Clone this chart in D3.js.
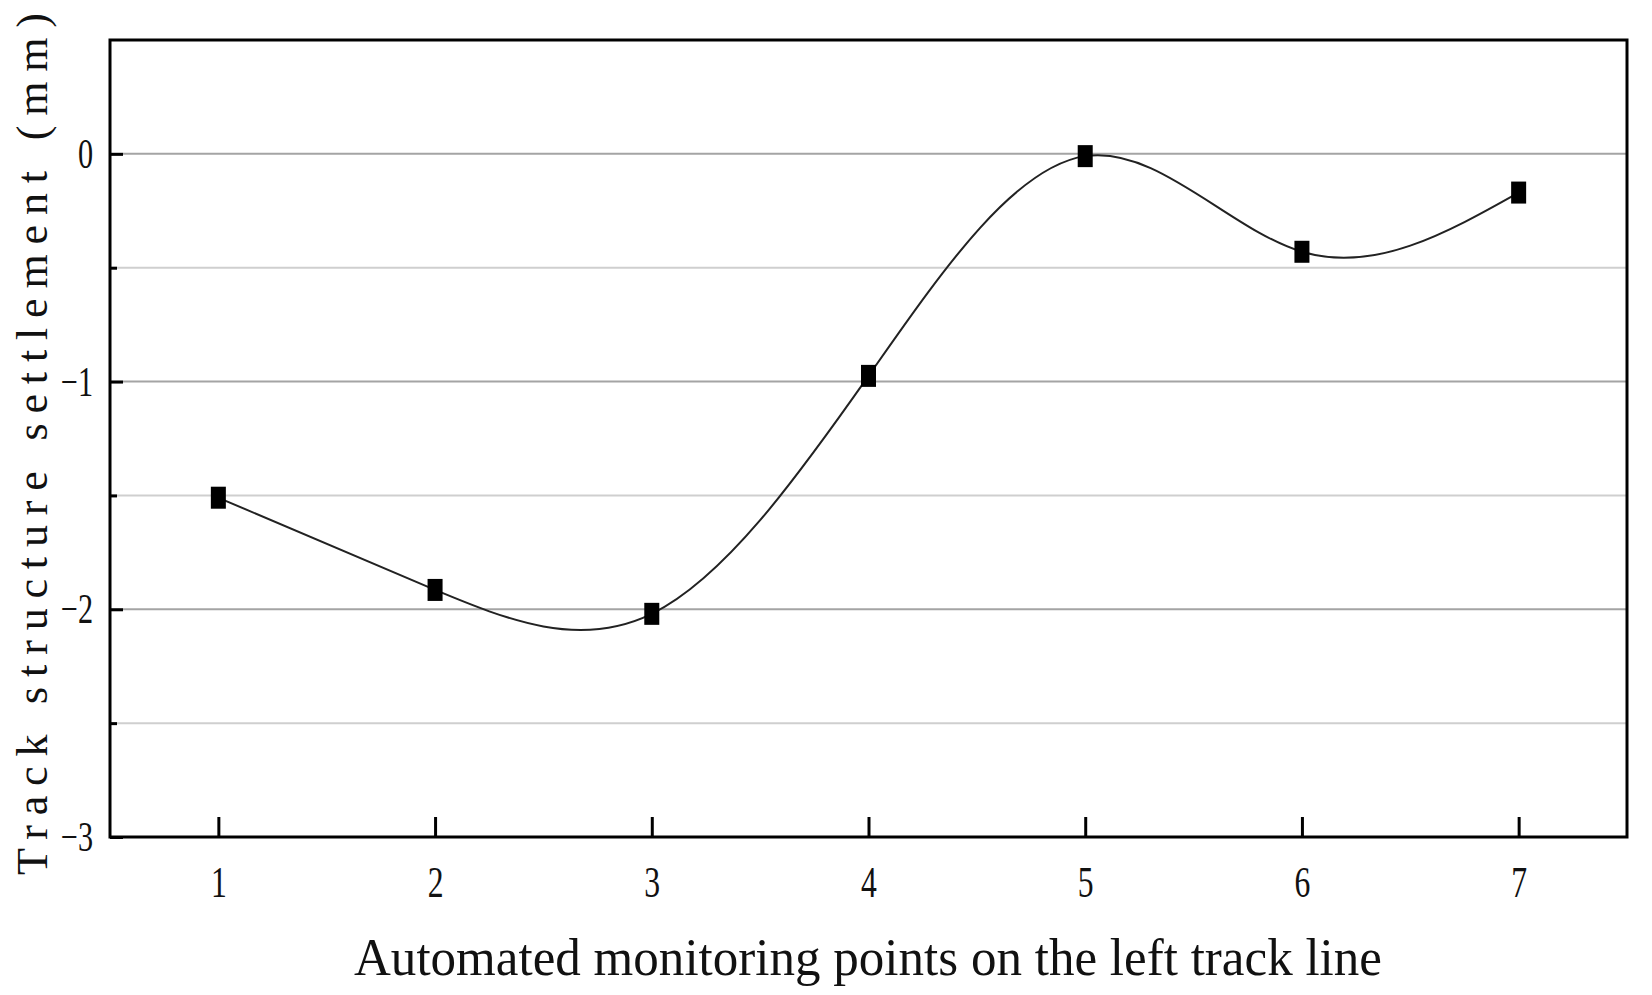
<!DOCTYPE html>
<html>
<head>
<meta charset="utf-8">
<script src="https://cdn.jsdelivr.net/npm/d3@7"></script>
<style>
  html, body { margin: 0; padding: 0; background: #fff; }
  svg { display: block; }
  text { font-family: "Liberation Serif", "DejaVu Serif", serif; fill: #111; }
</style>
</head>
<body>
<svg id="chart" width="1652" height="995"></svg>
<script>
// ---- data ----
const points = [1, 2, 3, 4, 5, 6, 7];
const settlement = [-1.51, -1.915, -2.02, -0.975, -0.01, -0.43, -0.17];
const yMajorTicks = [-3, -2, -1, 0];
const yMinorTicks = [-2.5, -1.5, -0.5];
const xTickLabels = ["1", "2", "3", "4", "5", "6", "7"];
const xTitle = "Automated monitoring points on the left track line";
const yTitle = "Track structure settlement (mm)";

// ---- layout ----
const svg = d3.select("#chart");
const L = 110, R = 1627, T = 40, B = 837;

const x = d3.scaleLinear().domain([0.5, 7.5]).range([L, R]);
const y = d3.scaleLinear().domain([-3, 0.5]).range([B, T]);

// gridlines
const grid = svg.append("g");
grid.selectAll("line.minor").data(yMinorTicks).join("line")
  .attr("x1", L).attr("x2", R)
  .attr("y1", d => y(d)).attr("y2", d => y(d))
  .attr("stroke", "#cfcfcf").attr("stroke-width", 2);
grid.selectAll("line.major").data(yMajorTicks.filter(d => d > -3)).join("line")
  .attr("x1", L).attr("x2", R)
  .attr("y1", d => y(d)).attr("y2", d => y(d))
  .attr("stroke", "#a4a4a4").attr("stroke-width", 2);

// curve
const data = points.map((p, i) => ({ x: p, y: settlement[i] }));
const line = d3.line().x(d => x(d.x)).y(d => y(d.y)).curve(d3.curveNatural);
svg.append("path").datum(data)
  .attr("d", line)
  .attr("fill", "none")
  .attr("stroke", "#222")
  .attr("stroke-width", 2);

// markers
const mw = 15, mh = 22;
svg.selectAll("rect.mk").data(data).join("rect")
  .attr("class", "mk")
  .attr("x", d => x(d.x) - mw / 2)
  .attr("y", d => y(d.y) - mh / 2)
  .attr("width", mw).attr("height", mh)
  .attr("fill", "#000");

// axes
const sx = 0.72;
const yAxis = d3.axisLeft(y).tickValues(yMajorTicks).tickSize(-13).tickPadding(17)
  .tickFormat(d => d === 0 ? "0" : (d < 0 ? "\u2212" + Math.abs(d) : String(d)));
const gy = svg.append("g").attr("transform", `translate(${L},0)`).call(yAxis);
gy.select(".domain").remove();
gy.selectAll("line").attr("stroke", "#000").attr("stroke-width", 3);
gy.selectAll("text")
  .attr("font-size", 42)
  .attr("font-family", "Liberation Serif")
  .attr("fill", "#111")
  .attr("x", -17 / sx)
  .attr("transform", `scale(${sx},1)`);

const yAxisMinor = d3.axisLeft(y).tickValues(yMinorTicks).tickSize(-7).tickFormat("");
const gym = svg.append("g").attr("transform", `translate(${L},0)`).call(yAxisMinor);
gym.select(".domain").remove();
gym.selectAll("line").attr("stroke", "#000").attr("stroke-width", 3);

const xAxis = d3.axisBottom(x).tickValues(points).tickSize(-20).tickPadding(29)
  .tickFormat((d, i) => xTickLabels[i]);
const gx = svg.append("g").attr("transform", `translate(0,${B})`).call(xAxis);
gx.select(".domain").remove();
gx.selectAll("line").attr("stroke", "#000").attr("stroke-width", 3);
gx.selectAll("text")
  .attr("font-size", 44)
  .attr("font-family", "Liberation Serif")
  .attr("fill", "#111")
  .attr("transform", `scale(${sx},1)`);

// frame
svg.append("rect")
  .attr("x", L).attr("y", T)
  .attr("width", R - L).attr("height", B - T)
  .attr("fill", "none").attr("stroke", "#000").attr("stroke-width", 3);

// titles
svg.append("text")
  .attr("x", 354).attr("y", 975)
  .attr("font-size", 52)
  .attr("textLength", 1028)
  .attr("lengthAdjust", "spacingAndGlyphs")
  .text(xTitle);

svg.append("text")
  .attr("transform", "translate(47,875) rotate(-90)")
  .attr("font-size", 44)
  .attr("textLength", 862)
  .attr("lengthAdjust", "spacing")
  .text(yTitle);
</script>
</body>
</html>
